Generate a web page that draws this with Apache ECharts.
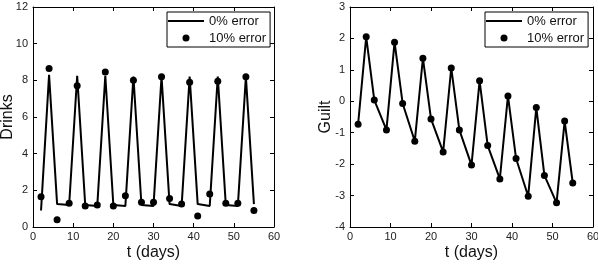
<!DOCTYPE html>
<html>
<head>
<meta charset="utf-8">
<script src="https://cdn.jsdelivr.net/npm/echarts@6/dist/echarts.min.js"></script>
<style>
  html, body { margin: 0; padding: 0; background: #fff; }
  #chart { width: 598px; height: 266px; }
</style>
</head>
<body>
<div id="chart"></div>
<script>
  // days where the model was sampled
  var days = [2, 4, 6, 9, 11, 13, 16, 18, 20, 23, 25, 27, 30, 32, 34, 37, 39, 41, 44, 46, 48, 51, 53, 55];
  // drinks, exact model (0% error)
  var drinksExact = [0.9, 8.3, 1.25, 1.2, 8.25, 1.2, 1.15, 8.25, 1.2, 1.15, 8.2, 1.2, 1.15, 8.2, 1.25, 1.15, 8.2, 1.25, 1.15, 8.2, 1.2, 1.15, 8.2, 1.25];
  // drinks, noisy model (10% error)
  var drinksNoisy = [1.65, 8.65, 0.4, 1.3, 7.7, 1.15, 1.2, 8.45, 1.15, 1.7, 8.0, 1.35, 1.35, 8.2, 1.55, 1.25, 7.9, 0.6, 1.8, 7.95, 1.3, 1.3, 8.2, 0.9];
  // guilt, line and points lie on top of each other
  var guiltExact = [-0.73, 2.05, 0.04, -0.91, 1.88, -0.07, -1.27, 1.37, -0.56, -1.61, 1.06, -0.91, -2.03, 0.65, -1.41, -2.47, 0.17, -1.82, -3.02, -0.2, -2.36, -3.23, -0.63, -2.6];
  var guiltNoisy = [-0.73, 2.05, 0.04, -0.91, 1.88, -0.07, -1.27, 1.37, -0.56, -1.61, 1.06, -0.91, -2.03, 0.65, -1.41, -2.47, 0.17, -1.82, -3.02, -0.2, -2.36, -3.23, -0.63, -2.6];

  function pairs(xs, ys) {
    var out = [];
    for (var i = 0; i < xs.length; i++) {
      out.push([xs[i], ys[i]]);
    }
    return out;
  }

  var font = 'Liberation Sans, Arial, sans-serif';

  function xAxisFor(grid, pos, name) {
    return {
      gridIndex: grid, type: 'value', position: pos, min: 0, max: 60, interval: 10,
      name: name, nameLocation: 'middle', nameGap: 18, nameMoveOverlap: false,
      nameTextStyle: {fontFamily: font, fontSize: 16, color: '#111'},
      axisLine: {show: true, onZero: false, lineStyle: {color: '#000', width: 1}},
      axisTick: {show: true, inside: true, length: 4, lineStyle: {color: '#000'}},
      axisLabel: {show: pos === 'bottom', fontFamily: font, fontSize: 11, color: '#222', margin: 4},
      splitLine: {show: false}
    };
  }

  function yAxisFor(grid, pos, min, max, step, name, gap) {
    return {
      gridIndex: grid, type: 'value', position: pos, min: min, max: max, interval: step,
      name: name, nameLocation: 'middle', nameGap: gap, nameMoveOverlap: false,
      nameTextStyle: {fontFamily: font, fontSize: 16, color: '#111'},
      axisLine: {show: true, onZero: false, lineStyle: {color: '#000', width: 1}},
      axisTick: {show: true, inside: true, length: 4, lineStyle: {color: '#000'}},
      axisLabel: {show: pos === 'left', fontFamily: font, fontSize: 11, color: '#222', margin: 5},
      splitLine: {show: false}
    };
  }

  function legendAt(left) {
    return {
      left: left, top: 12, orient: 'vertical',
      data: [
        {name: '0% error', icon: 'path://M0,0 L36,0 L36,2 L0,2 Z'},
        {name: '10% error', icon: 'circle'}
      ],
      itemWidth: 36, itemHeight: 7, itemGap: 3,
      padding: [2, 4, 2, 1],
      borderColor: '#000', borderWidth: 1, borderRadius: 0,
      backgroundColor: '#fff',
      selectedMode: false,
      textStyle: {fontFamily: font, fontSize: 13, color: '#111', lineHeight: 14}
    };
  }

  function lineSeries(xi, yi, data) {
    return {
      name: '0% error', type: 'line', xAxisIndex: xi, yAxisIndex: yi,
      data: data, symbol: 'none', animation: false,
      lineStyle: {color: '#000', width: 2},
      itemStyle: {color: '#000'}
    };
  }

  function dotSeries(xi, yi, data) {
    return {
      name: '10% error', type: 'scatter', xAxisIndex: xi, yAxisIndex: yi,
      data: data, symbol: 'circle', symbolSize: 7, animation: false,
      itemStyle: {color: '#000', opacity: 1}
    };
  }

  var chart = echarts.init(document.getElementById('chart'));
  chart.setOption({
    backgroundColor: '#fff',
    animation: false,
    grid: [
      {left: 33, top: 7, width: 241, height: 220, outerBoundsMode: 'none', containLabel: false},
      {left: 350, top: 7, width: 243, height: 220, outerBoundsMode: 'none', containLabel: false}
    ],
    legend: [legendAt(167), legendAt(485)],
    xAxis: [
      xAxisFor(0, 'bottom', 't (days)'),
      xAxisFor(0, 'top', ''),
      xAxisFor(1, 'bottom', 't (days)'),
      xAxisFor(1, 'top', '')
    ],
    yAxis: [
      yAxisFor(0, 'left', 0, 12, 2, 'Drinks', 17),
      yAxisFor(0, 'right', 0, 12, 2, '', 0),
      yAxisFor(1, 'left', -4, 3, 1, 'Guilt', 16),
      yAxisFor(1, 'right', -4, 3, 1, '', 0)
    ],
    series: [
      lineSeries(0, 0, pairs(days, drinksExact)),
      dotSeries(0, 0, pairs(days, drinksNoisy)),
      lineSeries(2, 2, pairs(days, guiltExact)),
      dotSeries(2, 2, pairs(days, guiltNoisy))
    ]
  });
</script>
</body>
</html>
